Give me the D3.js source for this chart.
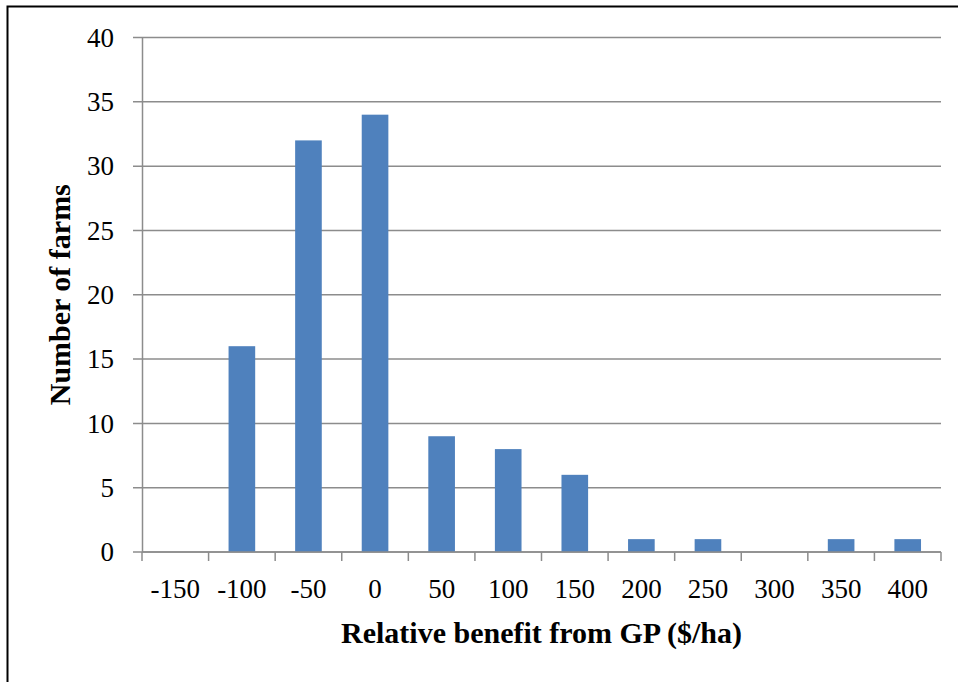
<!DOCTYPE html>
<meta charset="utf-8">
<head>
<style>
  body { margin: 0; background: #fff; }
  .axis text { font-family: "Liberation Serif", serif; font-size: 27px; fill: #000; }
  .title { font-family: "Liberation Serif", serif; font-size: 30px; font-weight: bold; fill: #000; }
</style>
<script src="https://d3js.org/d3.v7.min.js"></script>
</head>
<body>
<svg width="958" height="682"></svg>
<script>
// bins of relative benefit ($/ha) and number of farms in each
var categories = ["-150", "-100", "-50", "0", "50", "100", "150", "200", "250", "300", "350", "400"];
var farms = [0, 16, 32, 34, 9, 8, 6, 1, 1, 0, 1, 1];
var yTicks = [0, 5, 10, 15, 20, 25, 30, 35, 40];

var svg = d3.select("svg");
var plotLeft = 142, plotRight = 941, plotTop = 37.5, plotBottom = 552;

// frame around the figure
svg.append("path")
    .attr("d", "M7.5,682 L7.5,6.5 L958,6.5")
    .attr("fill", "none")
    .attr("stroke", "#000")
    .attr("stroke-width", 2);

var x = d3.scaleBand()
    .domain(categories)
    .range([plotLeft, plotRight])
    .paddingInner(0.6)
    .paddingOuter(0.3);

var y = d3.scaleLinear()
    .domain([0, 40])
    .range([plotBottom, plotTop]);

// gridlines
svg.append("g")
    .selectAll("line")
    .data(yTicks)
    .enter().append("line")
    .attr("x1", plotLeft - 9)
    .attr("x2", plotRight)
    .attr("y1", function(d) { return y(d); })
    .attr("y2", function(d) { return y(d); })
    .attr("stroke", "#8c8c8c")
    .attr("stroke-width", 1.5);

// y axis
var yAxis = svg.append("g")
    .attr("class", "axis")
    .attr("transform", "translate(" + plotLeft + ",0)")
    .call(d3.axisLeft(y).tickValues(yTicks).tickSize(0).tickPadding(28));
yAxis.select(".domain").attr("stroke", "#8c8c8c").attr("stroke-width", 1.5);

// bars
svg.append("g")
    .selectAll("rect")
    .data(farms)
    .enter().append("rect")
    .attr("x", function(d, i) { return x(categories[i]); })
    .attr("width", x.bandwidth())
    .attr("y", function(d) { return y(d); })
    .attr("height", function(d) { return y(0) - y(d); })
    .attr("fill", "#4f81bd");

// x axis: ticks sit between the bins
var step = x.step();
var xAxis = svg.append("g")
    .attr("class", "axis")
    .attr("transform", "translate(0," + plotBottom + ")");
xAxis.append("line")
    .attr("x1", plotLeft).attr("x2", plotRight)
    .attr("stroke", "#8c8c8c").attr("stroke-width", 1.5);
xAxis.selectAll(".tk")
    .data(d3.range(categories.length + 1))
    .enter().append("line")
    .attr("class", "tk")
    .attr("x1", function(i) { return plotLeft + i * step; })
    .attr("x2", function(i) { return plotLeft + i * step; })
    .attr("y1", 0).attr("y2", 9)
    .attr("stroke", "#8c8c8c").attr("stroke-width", 1.5);
xAxis.selectAll("text")
    .data(categories)
    .enter().append("text")
    .attr("x", function(d) { return x(d) + x.bandwidth() / 2; })
    .attr("y", 46)
    .attr("text-anchor", "middle")
    .text(function(d) { return d; });

// titles
svg.append("text")
    .attr("class", "title")
    .attr("x", (plotLeft + plotRight) / 2)
    .attr("y", 643)
    .attr("text-anchor", "middle")
    .text("Relative benefit from GP ($/ha)");

svg.append("text")
    .attr("class", "title")
    .attr("transform", "translate(70," + (plotTop + plotBottom) / 2 + ") rotate(-90)")
    .attr("text-anchor", "middle")
    .text("Number of farms");
</script>
</body>
